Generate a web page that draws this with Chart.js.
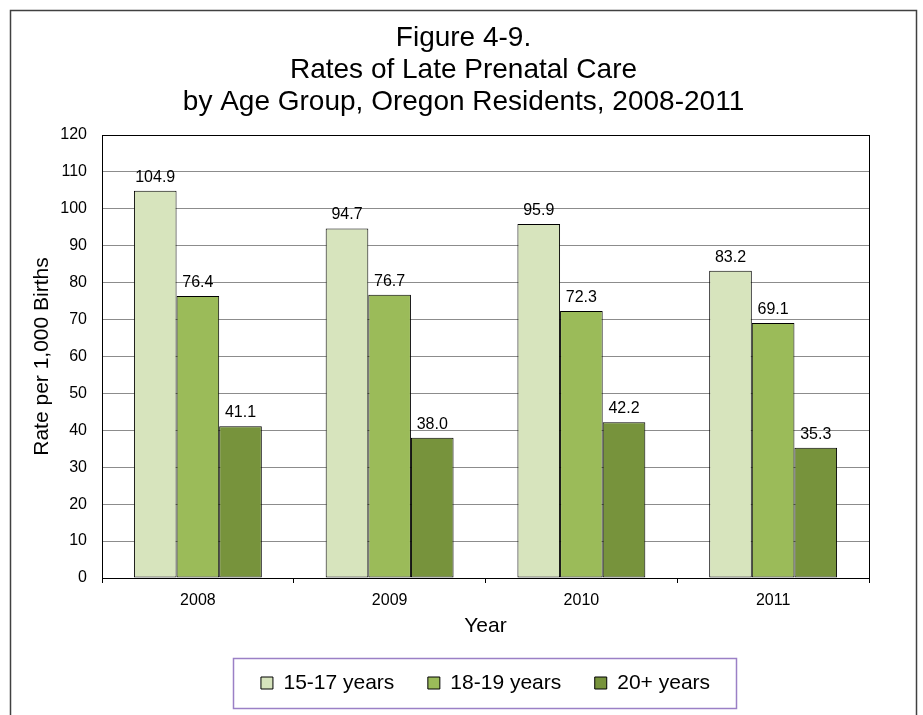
<!DOCTYPE html>
<html>
<head>
<meta charset="utf-8">
<script src="https://cdn.jsdelivr.net/npm/chart.js@4/dist/chart.umd.min.js"></script>
<style>
  html, body { margin: 0; padding: 0; background: #fff; }
  #wrap { width: 923px; height: 715px; }
</style>
</head>
<body>
<div id="wrap"><canvas id="chart"></canvas></div>
<script>
const years = ["2008", "2009", "2010", "2011"];
const ages15to17 = [104.9, 94.7, 95.9, 83.2];
const ages18to19 = [76.4, 76.7, 72.3, 69.1];
const ages20plus = [41.1, 38.0, 42.2, 35.3];
const seriesNames = ["15-17 years", "18-19 years", "20+ years"];
const titleLines = ["Figure 4-9.", "Rates of Late Prenatal Care", "by Age Group, Oregon Residents, 2008-2011"];

const FONT = "'Liberation Sans', Arial, sans-serif";

// frame round the whole figure
const outerBorder = {
  id: "outerBorder",
  beforeDraw(chart) {
    const ctx = chart.ctx;
    ctx.save();
    ctx.fillStyle = "#fff";
    ctx.fillRect(0, 0, chart.width, chart.height);
    ctx.strokeStyle = "#404040";
    ctx.lineWidth = 1.5;
    ctx.strokeRect(10.5, 10.5, chart.width - 17, chart.height + 20);
    ctx.restore();
  },
};

// centred three line title
const figureTitle = {
  id: "figureTitle",
  afterDraw(chart) {
    const ctx = chart.ctx;
    ctx.save();
    ctx.font = "28px " + FONT;
    ctx.fillStyle = "#000";
    ctx.textAlign = "center";
    ctx.textBaseline = "alphabetic";
    titleLines.forEach((line, i) => {
      ctx.fillText(line, chart.width / 2 + 2, 46 + i * 32);
    });
    ctx.restore();
  },
};

// values above bars + box round the plot
const barLabels = {
  id: "barLabels",
  afterDatasetsDraw(chart) {
    const ctx = chart.ctx;
    ctx.save();
    ctx.font = "16px " + FONT;
    ctx.fillStyle = "#000";
    ctx.textAlign = "center";
    ctx.textBaseline = "alphabetic";
    chart.data.datasets.forEach((ds, i) => {
      chart.getDatasetMeta(i).data.forEach((bar, j) => {
        ctx.fillText(ds.data[j].toFixed(1), bar.x, bar.y - 9);
      });
    });
    const a = chart.chartArea;
    ctx.strokeStyle = "#000";
    ctx.lineWidth = 1;
    ctx.strokeRect(Math.round(a.left) + 0.5, Math.round(a.top) + 0.5, Math.round(a.right - a.left), Math.round(a.bottom - a.top));
    ctx.restore();
  },
};

// purple box round the legend items
const legendFrame = {
  id: "legendFrame",
  afterDraw(chart) {
    const boxes = chart.legend.legendHitBoxes;
    if (!boxes || !boxes.length) return;
    const left = Math.min(...boxes.map(b => b.left)) - 28;
    const right = Math.max(...boxes.map(b => b.left + b.width)) + 26;
    const mid = boxes[0].top + boxes[0].height / 2;
    const ctx = chart.ctx;
    ctx.save();
    ctx.strokeStyle = "#9b80c6";
    ctx.lineWidth = 1.5;
    ctx.strokeRect(Math.round(left) + 0.5, Math.round(mid - 25) + 0.5, Math.round(right - left), 50);
    ctx.restore();
  },
};

new Chart(document.getElementById("chart"), {
  type: "bar",
  data: {
    labels: years,
    datasets: [
      { label: seriesNames[0], data: ages15to17, backgroundColor: "#d7e4bd", borderColor: "#000", borderWidth: 1 },
      { label: seriesNames[1], data: ages18to19, backgroundColor: "#9bbb59", borderColor: "#000", borderWidth: 1 },
      { label: seriesNames[2], data: ages20plus, backgroundColor: "#77933c", borderColor: "#000", borderWidth: 1 },
    ],
  },
  options: {
    responsive: true,
    maintainAspectRatio: false,
    animation: false,
    devicePixelRatio: 1,
    datasets: {
      bar: { categoryPercentage: 0.667, barPercentage: 1, borderSkipped: false },
    },
    layout: {
      padding: { top: 135, left: 30, right: 54, bottom: 11.5 },
    },
    plugins: {
      title: { display: false },
      tooltip: { enabled: false },
      legend: {
        position: "bottom",
        fullSize: false,
        labels: {
          font: { family: FONT, size: 21 },
          color: "#000",
          boxWidth: 12,
          boxHeight: 12,
          padding: 33.5,
        },
      },
    },
    scales: {
      x: {
        grid: { drawOnChartArea: false, drawTicks: true, tickLength: 5, color: "#000" },
        border: { display: true, color: "#000", width: 1 },
        ticks: { font: { family: FONT, size: 16 }, color: "#000", padding: 8 },
        title: { display: true, text: "Year", font: { family: FONT, size: 21 }, color: "#000", padding: 0 },
        afterFit(scale) { scale.height = 61; },
      },
      y: {
        min: 0,
        max: 120,
        ticks: { stepSize: 10, font: { family: FONT, size: 16 }, color: "#000", padding: 15 },
        grid: { color: "#8c8c8c", drawTicks: false },
        border: { display: true, color: "#000", width: 1 },
        title: { display: true, text: "Rate per 1,000 Births", font: { family: FONT, size: 21 }, color: "#000", padding: 0 },
        afterFit(scale) { scale.width = 72; },
      },
    },
  },
  plugins: [outerBorder, figureTitle, barLabels, legendFrame],
});
</script>
</body>
</html>
